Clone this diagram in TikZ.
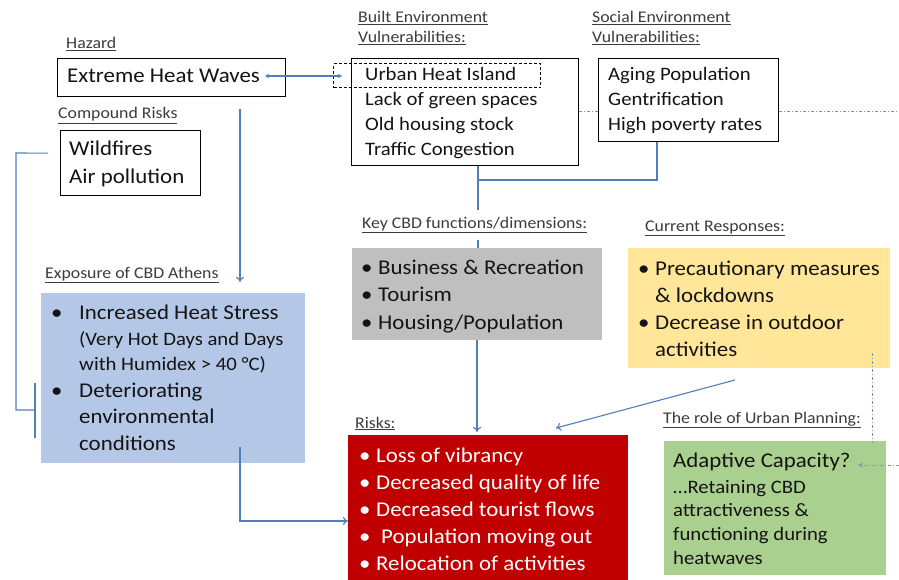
\documentclass[tikz,border=0pt]{standalone}
\usepackage{fontspec}
\setmainfont{Carlito}[FakeStretch=1.09]
\usetikzlibrary{arrows.meta,calc}
\definecolor{conn}{RGB}{84,126,186}
\definecolor{dashc}{RGB}{130,150,180}
\definecolor{greyfill}{RGB}{191,191,191}
\definecolor{yellowfill}{RGB}{255,230,153}
\definecolor{bluefill}{RGB}{180,199,231}
\definecolor{redfill}{RGB}{192,0,0}
\definecolor{greenfill}{RGB}{169,208,142}
\definecolor{labelc}{RGB}{60,60,60}
\definecolor{textc}{RGB}{20,20,20}
\begin{document}
\begin{tikzpicture}[x=1pt,y=-1pt,
  outl/.style={draw=black,line width=1.3pt,anchor=north west,inner sep=0pt},
  filled/.style={anchor=north west,inner sep=0pt},
  lbl/.style={anchor=base west,inner sep=0pt,text=labelc,font=\fontsize{16.3}{18}\selectfont},
  txt/.style={anchor=base west,inner sep=0pt,text=textc,font=\fontsize{21}{25}\selectfont},
  mtxt/.style={anchor=base west,inner sep=0pt,text=textc,font=\fontsize{19}{23}\selectfont},
  stxt/.style={anchor=base west,inner sep=0pt,text=textc,font=\fontsize{19}{22}\selectfont},
  conline/.style={draw=conn,line width=1.1pt},
  tipo/.style={-{To[length=5pt,width=8pt]}},
  dashdot/.style={draw=dashc,line width=1pt,dash pattern=on 3pt off 2pt on 1pt off 2pt}
]
\useasboundingbox (0,0) rectangle (899,580);
\fill[white] (0,0) rectangle (899,580);

% ---------- labels ----------
\node[lbl] (lhaz) at (66,49) {\underline{Hazard}};
\node[lbl] (lcomp) at (58,119) {\underline{Compound Risks}};
\node[lbl] (lbuilt1) at (358,23) {\underline{Built Environment}};
\node[lbl] (lbuilt2) at (358,43) {\underline{Vulnerabilities:}};
\node[lbl] (lsoc1) at (592,23) {\underline{Social Environment}};
\node[lbl] (lsoc2) at (592,43) {\underline{Vulnerabilities:}};
\node[lbl] (lkey) at (362,228) {\underline{Key CBD functions/dimensions:}};
\node[lbl] (lcur) at (645,231) {\underline{Current Responses:}};
\node[lbl] (lexp) at (45,278) {\underline{Exposure of CBD Athens}};
\node[lbl] (lrisk) at (355,428) {\underline{Risks:}};
\node[lbl] (lrole) at (663,423) {\underline{The role of Urban Planning:}};

% ---------- boxes ----------
\node[outl,minimum width=228pt,minimum height=38pt] (heat) at (57,58) {};
\node[txt] (theat) at (67,83) {Extreme Heat Waves};

\node[outl,minimum width=140pt,minimum height=65pt] (wild) at (60,130) {};
\node[txt] (twild1) at (69,156) {Wildfires};
\node[txt] (twild2) at (69,184) {Air pollution};

\node[outl,minimum width=227pt,minimum height=107pt] (built) at (351,58) {};
\node[draw=black,line width=1.1pt,dash pattern=on 3pt off 2pt,anchor=north west,inner sep=0pt,minimum width=207pt,minimum height=24pt] (uhi) at (333,63) {};
\foreach \t [count=\i] in {Urban Heat Island,Lack of green spaces,Old housing stock,Traffic Congestion}
  \node[mtxt] (tb\i) at (365,{81+(\i-1)*24.7}) {\t};

\node[outl,minimum width=180pt,minimum height=83pt] (soc) at (598,58) {};
\foreach \t [count=\i] in {Aging Population,Gentrification,High poverty rates}
  \node[mtxt] (ts\i) at (608,{81+(\i-1)*24.7}) {\t};

\node[filled,fill=greyfill,minimum width=250pt,minimum height=92pt] (grey) at (352,248) {};
\foreach \t [count=\i] in {Business \& Recreation,Tourism,Housing/Population}{
  \node[txt] (gb\i) at (361,{274+(\i-1)*27.5}) {\textbullet};
  \node[txt] (gt\i) at (378,{274+(\i-1)*27.5}) {\t};}

\node[filled,fill=yellowfill,minimum width=262pt,minimum height=120pt] (yel) at (628,248) {};
\node[txt] (yb1) at (638,275) {\textbullet};
\node[txt] (yt1) at (655,275) {Precautionary measures};
\node[txt] (yt2) at (655,302) {\& lockdowns};
\node[txt] (yb3) at (638,329) {\textbullet};
\node[txt] (yt3) at (655,329) {Decrease in outdoor};
\node[txt] (yt4) at (655,356) {activities};

\node[filled,fill=bluefill,minimum width=264pt,minimum height=170pt] (blue) at (41,293) {};
\node[txt] (bb1) at (51,319) {\textbullet};
\node[txt] (bt1) at (79,319) {Increased Heat Stress};
\node[stxt] (bt2) at (79,345) {(Very Hot Days and Days};
\node[stxt] (bt3) at (79,370) {with Humidex > 40 °C)};
\node[txt] (bb4) at (51,397) {\textbullet};
\node[txt] (bt4) at (79,397) {Deteriorating};
\node[txt] (bt5) at (79,423) {environmental};
\node[txt] (bt6) at (79,450) {conditions};

\node[filled,fill=redfill,minimum width=280pt,minimum height=145pt] (red) at (348,435) {};
\foreach \t/\xo [count=\i] in {Loss of vibrancy/376,Decreased quality of life/376,Decreased tourist flows/376,Population moving out/381,Relocation of activities/376}{
  \node[txt,text=white] (rb\i) at (359,{462+(\i-1)*27.2}) {\textbullet};
  \node[txt,text=white] (rt\i) at (\xo,{462+(\i-1)*27.2}) {\t};}

\node[filled,fill=greenfill,minimum width=222pt,minimum height=134pt] (green) at (664,441) {};
\node[txt] (gr1) at (673,467) {Adaptive Capacity?};
\foreach \t [count=\i] in {\ldots Retaining CBD,attractiveness \&,functioning during,heatwaves}
  \node[stxt] (gr\i x) at (673,{493+(\i-1)*23.7}) {\t};

% ---------- connectors ----------
\coordinate (hz1) at (265,76);
\coordinate (hz2) at (342,76);
\draw[conline,{Stealth[length=4pt,width=4pt]}-{Stealth[length=4pt,width=4pt]}] (hz1) -- (hz2);

\coordinate (hs) at ($(heat.south west)+(183,12)$);
\coordinate (he) at (240,282);
\draw[conline,tipo] (hs) -- (he);

\coordinate (wtop) at ($(wild.west)+(-12,-10)$);
\coordinate (wleft) at (16,153);
\coordinate (wbot) at (16,410);
\coordinate (wtick) at (35,410);
\draw[conline] (wtop) -- (wleft) -- (wbot) -- (wtick);
\draw[conline] (35,383) -- (35,438);

\coordinate (bs) at (240,447);
\coordinate (bc) at (240,521);
\draw[conline,tipo] (bs) -- (bc) -- (bc -| red.west);

\coordinate (jn) at (478,180);
\coordinate (sb) at (657,180);
\draw[conline] (built.south -| jn) -- (jn) -- (sb) -- (sb |- soc.south);
\draw[conline] (jn) -- (478,210);
\draw[conline] (478,240) -- (grey.north -| 478,0);

\draw[conline,tipo] (grey.south -| 477,0) -- (477,432);
\coordinate (ys) at (735,380);
\draw[conline,tipo] (ys) -- (556,428);

\draw[dashdot] (built.east |- 0,112) -- (soc.west |- 0,112);
\draw[dashdot] (soc.east |- 0,112) -- (899,112);
\draw[dashdot] (872,353) -- (872,443);
\draw[dashdot,-{Stealth[length=5pt,width=5pt]}] (899,465) -- (858,465);
\end{tikzpicture}
\end{document}
